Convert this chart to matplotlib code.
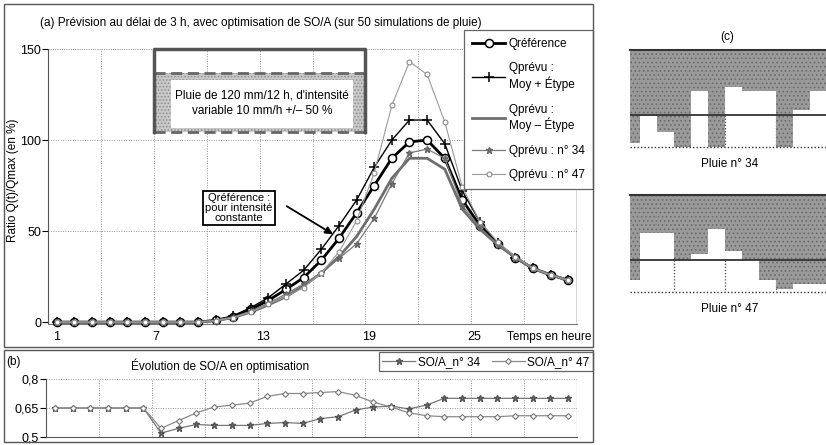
import numpy as np
import matplotlib
matplotlib.use('Agg')
import matplotlib.pyplot as plt
from matplotlib.patches import Rectangle

plt.rcParams['font.family'] = ['Liberation Sans', 'DejaVu Sans']
plt.rcParams['hatch.linewidth'] = 0.7

W, H = 826, 445
FS = 8.5

# --- (a) débits relatifs, pas horaire ---
hours = np.arange(1, 31)
q_ref = [0, 0, 0, 0, 0, 0, 0, 0, 0, 1, 3, 7, 12, 18, 24.5, 34, 46, 60, 75, 90,
         99, 100, 90, 67, 53, 43, 35.5, 29.5, 26, 23]
q_plus = [0, 0, 0, 0, 0, 0, 0, 0, 0, 1, 3.5, 8, 13.5, 21, 28.5, 40, 53, 67, 85, 100,
          111, 111, 98, 72, 55, 43.5, 35.5, 29.5, 26, 23]
q_minus = [0, 0, 0, 0, 0, 0, 0, 0, 0, 0.8, 2.5, 5.5, 9.5, 14, 20, 27, 36, 47, 62, 79,
           90, 90, 84, 62, 51, 42.5, 35.5, 29.5, 26, 23]
q_34 = [0, 0, 0, 0, 0, 0, 0, 0, 0, 0.8, 2.5, 6, 10.5, 15.5, 21, 27, 35, 43, 57, 76,
        93, 95, 90, 64, 52, 42.5, 35.5, 29.5, 26, 23]
q_47 = [0, 0, 0, 0, 0, 0, 0, 0, 0, 0.8, 2.5, 5.5, 10, 14, 19, 27, 38.5, 55.7, 82, 119,
        143, 136, 110, 74, 55, 44, 36, 29.5, 26, 23]
xtick_labels = ['1', '7', '13', '19', '25']
xtick_pos = [1, 6.6, 12.7, 18.7, 24.7]

# --- (b) évolution de SO/A ---
soa_34 = [0.65, 0.65, 0.65, 0.65, 0.65, 0.65, 0.52, 0.545, 0.565, 0.56, 0.56, 0.56,
          0.57, 0.575, 0.57, 0.595, 0.605, 0.64, 0.655, 0.66, 0.645, 0.665, 0.70, 0.70,
          0.70, 0.70, 0.70, 0.70, 0.70, 0.70]
soa_47 = [0.65, 0.65, 0.65, 0.65, 0.65, 0.65, 0.545, 0.585, 0.625, 0.655, 0.665, 0.675,
          0.71, 0.725, 0.725, 0.73, 0.735, 0.715, 0.68, 0.655, 0.625, 0.61, 0.605, 0.605,
          0.605, 0.605, 0.61, 0.61, 0.61, 0.61]

# --- (c) hyétogrammes (mm/h), 12 pas horaires ---
pluie_34 = [14.4, 10.2, 12.7, 15, 6.4, 15, 5.7, 6.4, 6.4, 15, 9.3, 6.4]
pluie_47 = [13.1, 5.9, 5.9, 10.0, 9.2, 5.3, 8.7, 10.1, 13.2, 14.5, 13.7, 13.7]


def fx(x):
    return x / W


def fy(y):
    return 1 - y / H


fig = plt.figure(figsize=(W / 100, H / 100), dpi=100)
fig.patch.set_facecolor('white')

# frames of panels (a) and (b)
for x0, y0, x1, y1 in [(4, 4, 593, 347), (4, 350, 593, 442)]:
    fig.patches.append(Rectangle((fx(x0), fy(y1)), fx(x1 - x0), (y1 - y0) / H,
                                 transform=fig.transFigure, fill=False,
                                 ec='#555555', lw=1.0, zorder=0))

grid_kw = dict(color='#999999', ls=(0, (1, 1.5)), lw=0.7)

# ================= (a) =================
ax = fig.add_axes([fx(48), fy(324), fx(577 - 48), (324 - 49) / H])
ax.set_xlim(0.5, 30.5)
ax.set_ylim(-1, 150)
for g in np.arange(3.5, 30, 3):
    ax.axvline(g, zorder=0, **grid_kw)
for g in [50, 100]:
    ax.axhline(g, zorder=0, **grid_kw)

# boîte pluie 120 mm / 12 h
ax.add_patch(Rectangle((6.5, 104.6), 12, 32.2, fc='#c8c8c8', ec='#8e8e8e', hatch='.....',
                       lw=0, zorder=1))
ax.hlines([136.8, 104.6], 6.5, 18.5, colors='#666666', linestyles=(0, (4, 2)), lw=2, zorder=2)
ax.plot([6.5, 6.5, 18.5, 18.5], [104.6, 150, 150, 104.6], color='#555555', lw=2.5,
        zorder=2, clip_on=False)
ax.add_patch(Rectangle((7.5, 106.8), 10.3, 26.2, fc='white', ec='none', zorder=3))
ax.text(12.65, 120, "Pluie de 120 mm/12 h, d'intensité\nvariable 10 mm/h +/– 50 %",
        ha='center', va='center', fontsize=FS, linespacing=1.4, zorder=4)

# ordre de tracé type tableur : la référence d'abord, les autres par-dessus
ax.plot(hours, q_ref, color='black', lw=2.0, marker='o', ms=5.8, mfc='white', mec='black',
        mew=1.1, label='Qréférence', zorder=4, clip_on=False)
ax.plot(hours, q_plus, color='black', lw=1.0, marker='+', ms=7, mew=1.1,
        label='Qprévu :\nMoy + Étype', zorder=5, clip_on=False)
ax.plot(hours, q_minus, color='#6e6e6e', lw=2.0, label='Qprévu :\nMoy – Étype', zorder=6)
ax.plot(hours, q_34, color='#7a7a7a', lw=0.9, marker='*', ms=4.5, mec='#666666',
        label='Qprévu : n° 34', zorder=7, clip_on=False)
ax.plot(hours, q_47, color='#9a9a9a', lw=0.8, marker='o', ms=3.5, mfc='white',
        mec='#8a8a8a', mew=0.8, label='Qprévu : n° 47', zorder=8, clip_on=False)

leg = ax.legend(loc='upper right', bbox_to_anchor=(1.03, 1.07), borderaxespad=0,
                fontsize=FS, fancybox=False, framealpha=1, edgecolor='#666666',
                handlelength=2.8, handletextpad=0.3, labelspacing=1.05, borderpad=0.7)
leg.get_frame().set_linewidth(0.9)
leg.set_zorder(10)

ax.set_xticks(xtick_pos)
ax.set_xticklabels(xtick_labels, fontsize=FS + 0.5)
ax.tick_params(axis='x', length=0, pad=5)
ax.set_yticks([0, 50, 100, 150])
ax.tick_params(axis='y', length=4, labelsize=FS + 0.5, pad=1)
for s in ['top', 'right']:
    ax.spines[s].set_visible(False)
ax.spines['left'].set_color('#555555')
ax.spines['bottom'].set_color('#777777')
ax.spines['bottom'].set_linestyle((0, (1, 1)))
ax.axhline(150, color='#999999', lw=0.8, ls=(0, (1, 1)), zorder=0)
ax.axvline(30.5, color='#333333', lw=1.0, zorder=0)

ax.annotate('', xy=(16.8, 47.5), xytext=(13.9, 64.5),
            arrowprops=dict(arrowstyle='-|>', color='black', lw=1.3, mutation_scale=11),
            zorder=9)
ax.text(11.33, 62.6, 'Qréférence :\npour intensité\nconstante', ha='center', va='center',
        fontsize=FS - 0.5, linespacing=1.0, zorder=9,
        bbox=dict(boxstyle='square,pad=0.2', fc='white', ec='black', lw=1.3))

fig.text(fx(40), fy(23), '(a) Prévision au délai de 3 h, avec optimisation de SO/A '
         '(sur 50 simulations de pluie)', ha='left', va='center', fontsize=FS)
fig.text(fx(13), fy(180), 'Ratio Q(t)/Qmax (en %)', rotation=90, ha='center', va='center',
         fontsize=FS)
fig.text(fx(591), fy(337), 'Temps en heure', ha='right', va='center', fontsize=FS)

# ================= (b) =================
bx = fig.add_axes([fx(46), fy(437), fx(577 - 46), (437 - 379) / H])
bx.set_xlim(0.5, 30.5)
bx.set_ylim(0.5, 0.8)
for g in np.arange(3.5, 30, 3):
    bx.axvline(g, zorder=0, **grid_kw)
bx.axhline(0.65, zorder=0, **grid_kw)
bx.axhline(0.8, zorder=0, **grid_kw)
bx.axvline(30.5, color='#555555', lw=0.8, zorder=0)
bx.plot(hours, soa_34, color='#777777', lw=0.9, marker='*', ms=4.5, mec='#555555',
        label='SO/A_n° 34', zorder=3)
bx.plot(hours, soa_47, color='#8a8a8a', lw=0.9, marker='D', ms=3, mfc='white',
        mec='#777777', mew=0.8, label='SO/A_n° 47', zorder=3)
bx.set_xticks([])
bx.set_yticks([0.5, 0.65, 0.8])
bx.set_yticklabels(['0,5', '0,65', '0,8'])
bx.tick_params(axis='y', length=4, labelsize=FS + 0.5, pad=1)
for s in ['top', 'right']:
    bx.spines[s].set_visible(False)
bx.spines['left'].set_color('#555555')
bx.spines['bottom'].set_color('#555555')
bleg = bx.legend(loc='upper right', bbox_to_anchor=(1.03, 1.46), borderaxespad=0, ncol=2,
                 fontsize=FS, fancybox=False, framealpha=1, edgecolor='#666666',
                 handlelength=2.8, handletextpad=0.2, columnspacing=1.0, borderpad=0.3)
bleg.get_frame().set_linewidth(0.9)
fig.text(fx(6), fy(362), '(b)', ha='left', va='center', fontsize=FS)
fig.text(fx(220), fy(366), 'Évolution de SO/A en optimisation', ha='center', va='center',
         fontsize=FS)

# ================= (c) =================
fig.text(fx(727), fy(37), '(c)', ha='center', va='center', fontsize=FS)
for vals, top, bot, name in [(pluie_34, 50, 147, 'Pluie n° 34'),
                             (pluie_47, 195, 292, 'Pluie n° 47')]:
    cx = fig.add_axes([fx(630), fy(bot), fx(826 - 630), (bot - top) / H])
    cx.set_xlim(0.41, 11.94)
    cx.set_ylim(15, 0)
    cx.vlines([3, 6, 9], 10, 15, colors='#444444', linestyles=(0, (1, 1.5)), lw=0.9, zorder=0)
    cx.bar(np.arange(len(vals)), vals, width=1.0, align='edge', color='#9a9a9a',
           edgecolor='#6a6a6a', hatch='....', lw=0, zorder=1)
    cx.axhline(10, color='#333333', lw=1.3, zorder=2)
    cx.axhline(15, color='#333333', lw=1.0, ls=(0, (1, 1.5)), zorder=2, clip_on=False)
    cx.set_xticks([])
    cx.set_yticks([])
    for s in ['left', 'right', 'bottom']:
        cx.spines[s].set_visible(False)
    cx.spines['top'].set_color('#333333')
    cx.spines['top'].set_linewidth(1.5)
    fig.text(fx(730), fy(bot + 17), name, ha='center', va='center', fontsize=FS)

fig.savefig('out.png', dpi=100, facecolor='white')
